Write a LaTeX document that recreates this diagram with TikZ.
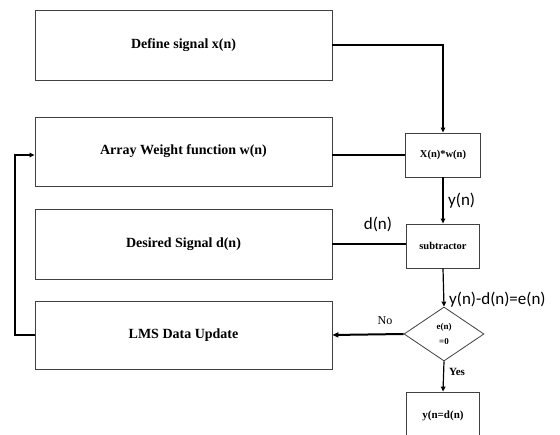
\documentclass[tikz,border=0pt]{standalone}
\usepackage{fontspec}
\setmainfont{Liberation Serif}
\newfontfamily\labfont{Carlito}
\usetikzlibrary{arrows.meta,shapes.geometric}
\begin{document}
\begin{tikzpicture}[x=1pt,y=-1pt,
  bigbox/.style={draw=black!75,line width=0.8pt,rectangle,inner sep=0pt,minimum width=297pt,font=\fontsize{14}{16}\selectfont\bfseries},
  smallbox/.style={draw=black!75,line width=0.8pt,rectangle,inner sep=0pt,font=\fontsize{10.5}{12}\selectfont\bfseries},
  decision/.style={draw=black!75,line width=0.8pt,diamond,inner sep=0pt,minimum width=80pt,minimum height=54pt,align=center,font=\fontsize{9}{15}\selectfont\bfseries},
  conn/.style={line width=1.2pt,black},
  arr/.style={conn,-{Triangle[length=5pt,width=4.5pt]}},
  siglabel/.style={font=\labfont\fontsize{17}{19}\selectfont,inner sep=0pt}]
\clip (0,0) rectangle (560,435);
\fill[white] (0,0) rectangle (560,435);
% left column
\node[bigbox,minimum height=70pt] (b1) at (183.5,45) {Define signal x(n)};
\node[bigbox,minimum height=69pt] (b2) at (183.5,151.5) {Array Weight function w(n)};
\node[bigbox,minimum height=70pt] (b3) at (183.5,244) {Desired Signal d(n)};
\node[bigbox,minimum height=68pt] (b4) at (183.5,335) {LMS Data Update};
% right column
\node[smallbox,minimum width=75pt,minimum height=44pt] (mul) at (443,155) {X(n)*w(n)};
\node[smallbox,minimum width=73pt,minimum height=44pt] (sub) at (443,246) {subtractor};
\node[decision] (dec) at (444,334) {e(n)\\=0};
\node[smallbox,minimum width=73pt,minimum height=48pt,font=\fontsize{11}{13}\selectfont\bfseries] (res) at (443,416) {y(n=d(n)};
% connectors
\draw[arr] (b1.east) -| (mul.north);
\draw[conn] (b2.east |- mul.west) -- (mul.west);
\draw[conn] (b3.east) -- (b3.east -| sub.west);
\draw[arr] (mul.south) -- (sub.north);
\draw[arr] (sub.south) -- (dec.north);
\draw[arr] (dec.south) -- (res.north);
\draw[line width=2pt,-{Triangle[length=6pt,width=5pt]}] (dec.west) -- (b4.east);
\coordinate (fb1) at (15,335);
\coordinate (fb2) at (15,155);
\draw[arr] (b4.west) -- (fb1) -- (fb2) -- (fb2 -| b2.west);
% labels
\node[siglabel,anchor=west] (ly) at (448,201) {y(n)};
\node[siglabel] (ld) at (378,224) {d(n)};
\node[siglabel,anchor=west] (le) at (449,300) {y(n)-d(n)=e(n)};
\node[font=\fontsize{12}{14}\selectfont,inner sep=0pt] (lno) at (385,321) {No};
\node[font=\fontsize{11}{13}\selectfont\bfseries,inner sep=0pt] (lyes) at (457,372) {Yes};
\end{tikzpicture}
\end{document}
